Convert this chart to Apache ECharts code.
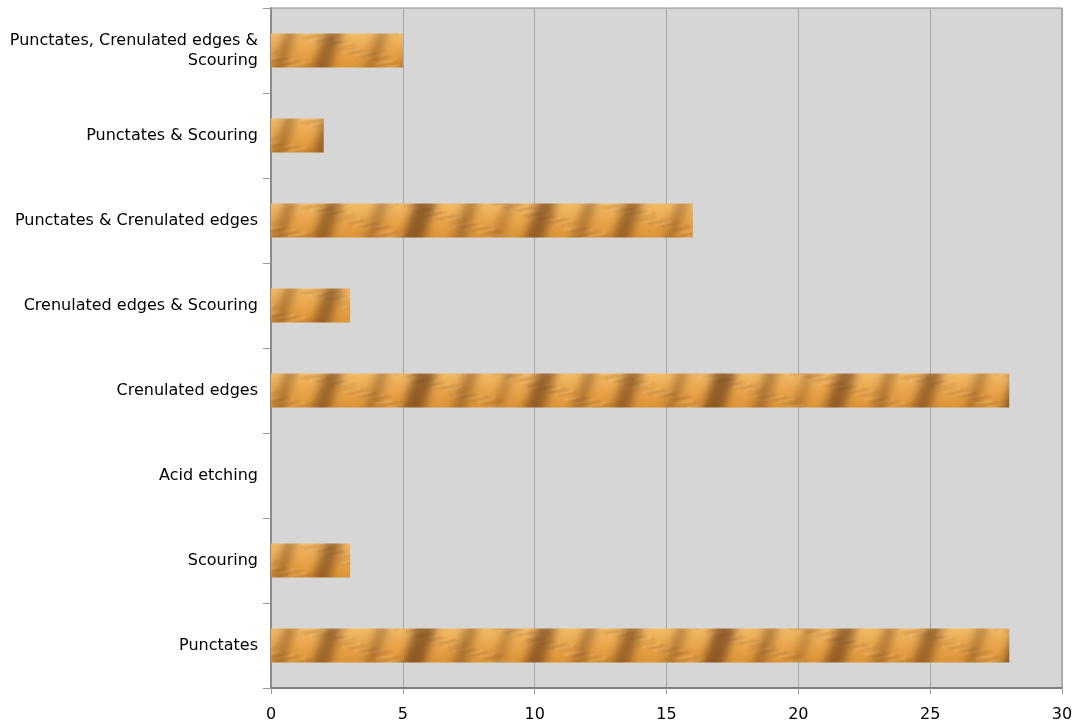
<!DOCTYPE html>
<html><head><meta charset="utf-8">
<script src="https://cdn.jsdelivr.net/npm/echarts@6/dist/echarts.min.js"></script>
<style>html,body{margin:0;padding:0;background:#fff}#c{width:1075px;height:722px}</style>
</head><body><div id="c"></div>
<script>
const categories = ["Punctates","Scouring","Acid etching","Crenulated edges","Crenulated edges & Scouring","Punctates & Crenulated edges","Punctates & Scouring","Punctates, Crenulated edges &\nScouring"];
const values = [28,3,0,28,3,16,2,5];
const xTicks = [0,5,10,15,20,25,30];

// decorative fur texture, one tile per category band (85px tall) so each bar gets the same vertical piece
function tigerTexture(w, h, y0, bh){
  const c = document.createElement('canvas'); c.width = w; c.height = h;
  const g = c.getContext('2d');
  const base = g.createLinearGradient(0,y0,0,y0+bh);
  base.addColorStop(0,'#f2bb68'); base.addColorStop(0.45,'#e9a64c'); base.addColorStop(1,'#da9234');
  g.fillStyle = base; g.fillRect(0,0,w,h);
  g.filter = 'blur(1px)';
  for (let i = 0; i < 80; i++) {
    const x = (i*37) % w, y = y0 + ((i*13) % bh);
    g.strokeStyle = (i % 3 === 0) ? 'rgba(250,215,150,0.5)' : 'rgba(170,100,35,0.3)';
    g.lineWidth = 1.5;
    for (const dx of [-w, 0, w]) { g.beginPath(); g.moveTo(x+dx, y); g.lineTo(x + dx + 18, y - 3); g.stroke(); }
  }
  g.filter = 'blur(4px)';
  const stripes = [[10,18,0.6],[62,12,0.4],[100,22,0.7],[150,14,0.45],[190,10,0.35],[222,20,0.65],[270,12,0.45]];
  for (const [x, sw, a] of stripes) {
    g.fillStyle = 'rgba(110,62,24,' + a + ')';
    for (const dx of [-w, 0, w]) {
      g.beginPath();
      g.moveTo(x+dx, y0 + bh + 6); g.lineTo(x + dx + sw, y0 + bh + 6);
      g.lineTo(x + dx + sw + 16, y0 - 6); g.lineTo(x + dx + 16, y0 - 6);
      g.closePath(); g.fill();
    }
  }
  g.filter = 'none';
  return c;
}
const tex = tigerTexture(300, 85, 34, 35);

const chart = echarts.init(document.getElementById('c'), null, {renderer:'canvas'});
chart.setOption({
  animation: false,
  grid: {left: 271, right: 13, top: 8, bottom: 34, outerBoundsMode: 'none', containLabel: false,
    show: true, backgroundColor: '#d6d6d6', borderColor: '#8c8c8c', borderWidth: 1},
  xAxis: {
    type: 'value', min: 0, max: 30, interval: 5,
    axisLine: {show: true, lineStyle: {color: '#7f7f7f', width: 2}},
    axisTick: {show: true, length: 6, lineStyle: {color: '#9a9a9a'}},
    splitLine: {show: true, lineStyle: {color: '#a6a6a6', width: 1}},
    axisLabel: {color: '#000', fontSize: 16, fontFamily: 'DejaVu Sans', margin: 19,
      formatter: v => xTicks.includes(v) ? String(v) : ''}
  },
  yAxis: {
    type: 'category', data: categories,
    axisLine: {show: true, lineStyle: {color: '#8c8c8c', width: 2}},
    axisTick: {show: true, length: 8, lineStyle: {color: '#9a9a9a'}},
    axisLabel: {color: '#000', fontSize: 16, fontFamily: 'DejaVu Sans', margin: 13, align: 'right', lineHeight: 20, padding: [3,0,0,0]}
  },
  series: [{
    type: 'bar', data: values, barCategoryGap: '60%',
    itemStyle: {color: {image: tex, repeat: 'repeat'}}
  }]
});
</script></body></html>
